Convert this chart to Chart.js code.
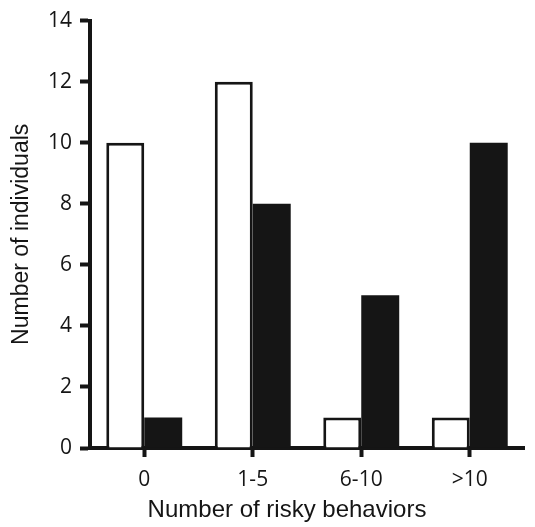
<!DOCTYPE html>
<html>
<head>
<meta charset="utf-8">
<script src="https://cdn.jsdelivr.net/npm/chart.js@4"></script>
<style>
  html, body { margin: 0; padding: 0; background: #fff; }
  #wrap { width: 535px; height: 527px; }
</style>
</head>
<body>
<div id="wrap"><canvas id="bar-chart"></canvas></div>
<script>
var categories = ["0", "1-5", "6-10", ">10"];
var whiteValues = [10, 12, 1, 1];
var blackValues = [1, 8, 5, 10];
var yTicks = [0, 2, 4, 6, 8, 10, 12, 14];

var ink = "#151515";

var barData = {
    labels: categories,
    datasets: [
        {
            label: "white",
            data: whiteValues,
            backgroundColor: "#fff",
            borderColor: ink,
            borderWidth: 3,
            borderSkipped: "bottom",
            categoryPercentage: 0.7,
            barPercentage: 1.0
        },
        {
            label: "black",
            data: blackValues,
            backgroundColor: ink,
            borderColor: ink,
            borderWidth: 0,
            categoryPercentage: 0.7,
            barPercentage: 1.0
        }
    ]
};

var barOptions = {
    responsive: true,
    maintainAspectRatio: false,
    animation: false,
    layout: { padding: { top: 18, right: 11, left: 0, bottom: 0 } },
    plugins: { legend: { display: false }, tooltip: { enabled: false } },
    scales: {
        x: {
            grid: { display: true, drawOnChartArea: false, offset: false, drawTicks: true, tickLength: 9, tickWidth: 4, color: ink },
            border: { display: true, width: 4, color: ink },
            ticks: { color: ink, padding: 10, font: { family: "Open Sans", size: 21 } },
            // trailing spaces nudge the title a bit left, like the original
            title: { display: true, text: "Number of risky behaviors      ", color: ink, padding: { top: 4, bottom: 2 }, font: { family: "Liberation Sans", size: 24 } },
            afterFit: function(scale){ scale.height = 79; }
        },
        y: {
            min: 0,
            max: 14,
            afterBuildTicks: function(scale){ scale.ticks = yTicks.map(function(v){ return { value: v }; }); },
            grid: { display: true, drawOnChartArea: false, drawTicks: true, tickLength: 10, tickWidth: 4, color: ink },
            border: { display: true, width: 4, color: ink },
            ticks: { color: ink, padding: 8, font: { family: "Open Sans", size: 21 } },
            title: { display: true, text: "Number of individuals", color: ink, padding: { top: 8, bottom: 4 }, font: { family: "Liberation Sans", size: 23 } },
            afterFit: function(scale){ scale.width = 90; }
        }
    }
};

var ctx = document.getElementById("bar-chart").getContext("2d");
var myChart = new Chart(ctx, { type: "bar", data: barData, options: barOptions });
</script>
</body>
</html>
